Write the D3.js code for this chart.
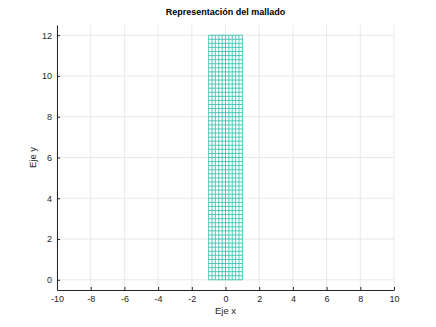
<!DOCTYPE html>
<html><head><meta charset="utf-8">
<script src="https://cdn.jsdelivr.net/npm/d3@7"></script>
<style>body{margin:0;background:#fff}svg{display:block}text{font-family:"Liberation Sans",Arial,sans-serif}</style>
</head><body>
<svg id="c" width="436" height="327"></svg>
<script>
const title = "Representación del mallado";
const xLabel = "Eje x";
const yLabel = "Eje y";
const xDomain = [-10, 10];
const yDomain = [-0.5, 12.5];
const xTicks = [-10, -8, -6, -4, -2, 0, 2, 4, 6, 8, 10];
const yTicks = [0, 2, 4, 6, 8, 10, 12];
// mesh node coordinates
const meshX = [-1, -0.8, -0.6, -0.4, -0.2, 0, 0.2, 0.4, 0.6, 0.8, 1];
const meshY = [];
for (let i = 0; i <= 60; i++) meshY.push(+(i * 0.2).toFixed(2));

const svg = d3.select("#c");
const L = 57, R = 394, T = 25, B = 290;
const x = d3.scaleLinear().domain(xDomain).range([L, R]);
const y = d3.scaleLinear().domain(yDomain).range([B, T]);
const axisCol = "#262626", gridCol = "#e3e3e3", meshCol = "#2dbdaf";

// grid
svg.append("g").selectAll("line").data(xTicks).join("line")
  .attr("x1", d => x(d)).attr("x2", d => x(d)).attr("y1", T).attr("y2", B)
  .attr("stroke", gridCol).attr("stroke-width", 0.8);
svg.append("g").selectAll("line").data(yTicks).join("line")
  .attr("x1", L).attr("x2", R).attr("y1", d => y(d)).attr("y2", d => y(d))
  .attr("stroke", gridCol).attr("stroke-width", 0.8);

// mesh
const m = svg.append("g").attr("stroke", meshCol).attr("stroke-width", 0.8);
m.selectAll("line.v").data(meshX).join("line").attr("class", "v")
  .attr("x1", d => x(d)).attr("x2", d => x(d))
  .attr("y1", y(meshY[0])).attr("y2", y(meshY[meshY.length - 1]));
m.selectAll("line.h").data(meshY).join("line").attr("class", "h")
  .attr("y1", d => y(d)).attr("y2", d => y(d))
  .attr("x1", x(meshX[0])).attr("x2", x(meshX[meshX.length - 1]));

// axes
const fmt = d => String(d);
const xa = svg.append("g").attr("transform", `translate(0,${B})`)
  .call(d3.axisBottom(x).tickValues(xTicks).tickFormat(fmt).tickSizeInner(-3).tickSizeOuter(0).tickPadding(6));
const ya = svg.append("g").attr("transform", `translate(${L},0)`)
  .call(d3.axisLeft(y).tickValues(yTicks).tickFormat(fmt).tickSizeInner(-3).tickSizeOuter(0).tickPadding(5));
[xa, ya].forEach(a => {
  a.select(".domain").attr("stroke", axisCol).attr("stroke-width", 1);
  a.selectAll(".tick line").attr("stroke", axisCol);
  a.selectAll(".tick text").attr("fill", axisCol).attr("font-size", 9)
    .attr("font-family", '"Liberation Sans",Arial,sans-serif');
});

svg.append("text").attr("x", (L + R) / 2).attr("y", 15).attr("text-anchor", "middle")
  .attr("font-size", 9).attr("font-weight", "bold").attr("fill", "#000").text(title);
svg.append("text").attr("x", (L + R) / 2).attr("y", 314).attr("text-anchor", "middle")
  .attr("font-size", 9.5).attr("fill", axisCol).text(xLabel);
svg.append("text").attr("transform", `translate(36,${(T + B) / 2}) rotate(-90)`)
  .attr("text-anchor", "middle").attr("font-size", 9.5).attr("fill", axisCol).text(yLabel);
</script>
</body></html>
